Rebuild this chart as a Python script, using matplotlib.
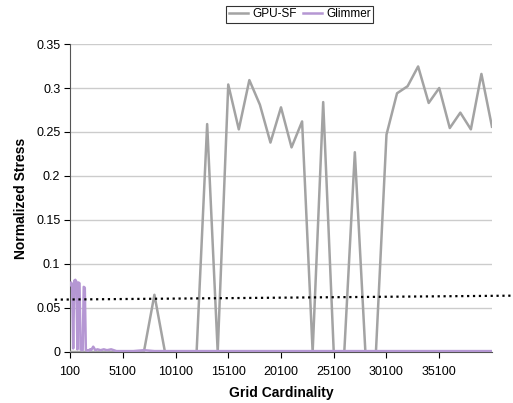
import numpy as np
import matplotlib
matplotlib.use("Agg")
import matplotlib.pyplot as plt
import matplotlib.transforms as mtransforms

plt.rcParams['font.family'] = ['Liberation Sans', 'DejaVu Sans']

# GPU-SF sampled every 1000 cells from 100 to 40100
gpu_x = np.arange(100, 40101, 1000)
gpu_y = [0, 0, 0, 0, 0, 0, 0, 0, 0.065, 0, 0,
         0, 0, 0.259, 0, 0.304, 0.253, 0.309, 0.281, 0.238, 0.278,
         0.2325, 0.262, 0, 0.284, 0, 0, 0.227, 0, 0, 0.247,
         0.294, 0.302, 0.3245, 0.283, 0.300, 0.2545, 0.272, 0.253, 0.316, 0.256]

# Glimmer, denser near the start
glim_x = [100, 200, 300, 400, 500, 600, 700, 800, 900, 1000,
          1100, 1200, 1300, 1400, 1500, 1600, 1700, 1800, 1900, 2000,
          2100, 2200, 2300, 2400, 2500, 2700, 3000, 3300, 3600, 4000,
          4500, 5100, 6100, 7100, 8100, 9100, 10100, 12100, 14100, 16100,
          18100, 20100, 22100, 24100, 26100, 28100, 30100, 32100, 34100,
          36100, 38100, 40100]
glim_y = [0.076, 0.079, 0.077, 0.004, 0.081, 0.082, 0.080, 0.003, 0.079, 0.078,
          0.003, 0.002, 0.002, 0.074, 0.073, 0.002, 0.002, 0.001, 0.002, 0.003,
          0.002, 0.004, 0.006, 0.004, 0.002, 0.003, 0.002, 0.003, 0.002, 0.003,
          0.001, 0.001, 0.001, 0.002, 0.001, 0.001, 0.001, 0.001, 0.001, 0.001,
          0.001, 0.001, 0.001, 0.001, 0.001, 0.001, 0.001, 0.001, 0.001,
          0.001, 0.001, 0.001]

# dotted reference line (left and right end values)
thresh = [0.0595, 0.064]

xticks = np.arange(100, 40000, 5000)
yticks = [0, 0.05, 0.1, 0.15, 0.2, 0.25, 0.3, 0.35]

fig = plt.figure(figsize=(5.13, 4.03), dpi=100)
ax = fig.add_axes([0.1365, 0.1266, 0.8225, 0.7642])

ax.plot(gpu_x, gpu_y, color="#a3a3a3", linewidth=1.8, label="GPU-SF", zorder=3)
ax.plot(glim_x, glim_y, color="#b597d3", linewidth=1.8, label="Glimmer", zorder=4)

# dotted line spills past the axes like the hand-drawn one
trans = mtransforms.blended_transform_factory(ax.transAxes, ax.transData)
ax.plot([-0.036, 1.05], thresh, ':', color="black", linewidth=1.6,
        transform=trans, clip_on=False, zorder=5)

ax.set_xlim(100, 40100)
ax.set_ylim(0, 0.35)
ax.set_xticks(xticks)
ax.set_xticklabels([str(t) for t in xticks])
ax.set_yticks(yticks)
ax.set_yticklabels(["0", "0.05", "0.1", "0.15", "0.2", "0.25", "0.3", "0.35"])
ax.tick_params(labelsize=9, length=4, width=0.8, color="black")
ax.tick_params(axis="x", pad=6)
ax.tick_params(axis="y", pad=3)

ax.grid(axis="y", color="#cccccc", linewidth=1)
ax.set_axisbelow(True)
for s in ["top", "right"]:
    ax.spines[s].set_visible(False)
ax.spines["left"].set_color("#555555")
ax.spines["bottom"].set_color("#555555")

ax.set_xlabel("Grid Cardinality", fontsize=10, fontweight="bold", labelpad=6)
ax.set_ylabel("Normalized Stress", fontsize=10, fontweight="bold", labelpad=6)

leg = ax.legend(loc="upper center", bbox_to_anchor=(0.545, 1.125), ncol=2,
                fontsize=8.5, frameon=True, fancybox=False, handlelength=1.6,
                handletextpad=0.3, columnspacing=0.6, borderpad=0.25,
                borderaxespad=0)
leg.get_frame().set_edgecolor("black")
leg.get_frame().set_linewidth(0.8)

fig.savefig("out.png", dpi=100)
